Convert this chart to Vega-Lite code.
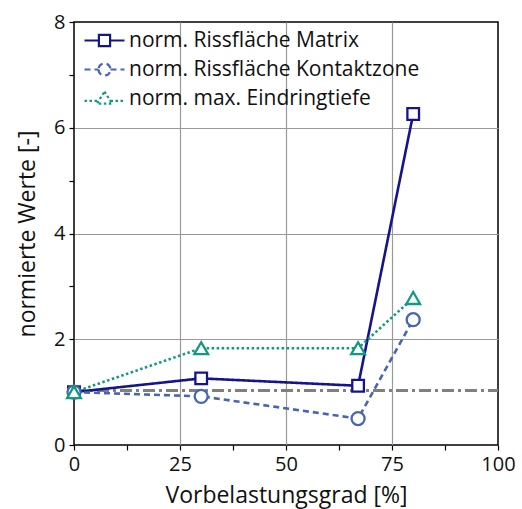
{
  "$schema": "https://vega.github.io/schema/vega-lite/v6.json",
  "autosize": "none",
  "width": 424,
  "height": 423,
  "padding": {"left": 74, "top": 22, "right": 24, "bottom": 64},
  "background": "white",
  "config": {
    "font": "Open Sans",
    "view": {"stroke": "black", "strokeWidth": 1.5},
    "axis": {"labelFont": "Open Sans", "titleFont": "Open Sans", "labelFontSize": 20, "titleFontSize": 23, "titleFontWeight": "normal", "labelColor": "#111", "titleColor": "#111", "domain": false, "tickColor": "black", "tickWidth": 1.2, "tickSize": 5, "gridColor": "#999", "gridWidth": 1.2},
    "legend": {"labelFont": "Open Sans", "labelFontSize": 21, "labelColor": "#111", "labelOffset": 14, "rowPadding": 7, "symbolSize": 256, "symbolStrokeWidth": 2.2, "padding": 0, "labelLimit": 400}
  },
  "data": {"values": [
    {"series": "norm. Rissfläche Matrix", "x": 0, "y": 1.0},
    {"series": "norm. Rissfläche Matrix", "x": 30, "y": 1.26},
    {"series": "norm. Rissfläche Matrix", "x": 67, "y": 1.12},
    {"series": "norm. Rissfläche Matrix", "x": 80, "y": 6.26},
    {"series": "norm. Rissfläche Kontaktzone", "x": 0, "y": 1.0},
    {"series": "norm. Rissfläche Kontaktzone", "x": 30, "y": 0.92},
    {"series": "norm. Rissfläche Kontaktzone", "x": 67, "y": 0.5},
    {"series": "norm. Rissfläche Kontaktzone", "x": 80, "y": 2.37},
    {"series": "norm. max. Eindringtiefe", "x": 0, "y": 1.0},
    {"series": "norm. max. Eindringtiefe", "x": 30, "y": 1.83},
    {"series": "norm. max. Eindringtiefe", "x": 67, "y": 1.83},
    {"series": "norm. max. Eindringtiefe", "x": 80, "y": 2.78}
  ]},
  "encoding": {
    "x": {"field": "x", "type": "quantitative", "scale": {"domain": [0, 100], "nice": false},
      "axis": {"title": "Vorbelastungsgrad [%]", "values": [0, 12.5, 25, 37.5, 50, 62.5, 75, 87.5, 100],
        "labelExpr": "datum.value % 25 === 0 ? datum.label : ''",
        "gridOpacity": {"condition": {"test": "datum.value % 25 !== 0 || datum.value === 0 || datum.value === 100", "value": 0}, "value": 1},
        "labelPadding": 4, "titlePadding": 10, "labelFlush": false,
        "encode": {"ticks": {"y2": {"value": -5}}}}},
    "y": {"field": "y", "type": "quantitative", "scale": {"domain": [0, 8], "nice": false},
      "axis": {"title": "normierte Werte [-]", "values": [0, 1, 2, 3, 4, 5, 6, 7, 8],
        "labelExpr": "datum.value % 2 === 0 ? datum.label : ''",
        "gridOpacity": {"condition": {"test": "datum.value % 2 !== 0 || datum.value === 0 || datum.value === 8", "value": 0}, "value": 1},
        "labelPadding": 4, "titlePadding": 14,
        "encode": {"ticks": {"x2": {"value": 5}}}}},
    "stroke": {"field": "series", "type": "nominal", "title": null,
      "scale": {"domain": ["norm. Rissfläche Matrix", "norm. Rissfläche Kontaktzone", "norm. max. Eindringtiefe"], "range": ["#14148c", "#4766b2", "#129a80"]},
      "legend": {"title": null, "orient": "none", "legendX": 20, "legendY": 8}}
  },
  "layer": [
    {
      "mark": {"type": "rule", "color": "#808080", "strokeWidth": 2, "strokeDash": [12, 4, 3, 4]},
      "encoding": {"y": {"datum": 1.03}, "x": {"datum": 0}, "x2": {"datum": 100}, "stroke": {"value": "#808080"}}
    },
    {
      "mark": {"type": "line", "strokeWidth": 2.6},
      "encoding": {
        "strokeDash": {"field": "series", "type": "nominal", "title": null, "scale": {"domain": ["norm. Rissfläche Matrix", "norm. Rissfläche Kontaktzone", "norm. max. Eindringtiefe"], "range": [[1, 0], [6, 4], [2.5, 2.5]]},
          "legend": {"title": null, "orient": "none", "legendX": 20, "legendY": 8}}
      }
    },
    {
      "transform": [{"filter": "datum.series === 'norm. Rissfläche Matrix'"}],
      "mark": {"type": "point", "shape": "square", "filled": false, "fill": "white", "fillOpacity": 1, "strokeWidth": 2.3, "size": 135, "opacity": 1}
    },
    {
      "transform": [{"filter": "datum.series === 'norm. Rissfläche Kontaktzone'"}],
      "mark": {"type": "point", "shape": "circle", "filled": false, "fill": "white", "fillOpacity": 1, "strokeWidth": 2.3, "size": 170, "opacity": 1}
    },
    {
      "transform": [{"filter": "datum.series === 'norm. max. Eindringtiefe'"}],
      "mark": {"type": "point", "shape": "triangle-up", "filled": false, "fill": "white", "fillOpacity": 1, "strokeWidth": 2.3, "size": 190, "opacity": 1}
    },
    {
      "transform": [{"filter": "datum.x < -1000"}],
      "mark": {"type": "point", "filled": false, "strokeWidth": 2.2, "size": 256, "opacity": 1},
      "encoding": {
        "strokeDash": {"field": "series", "type": "nominal", "title": null, "legend": {"title": null, "orient": "none", "legendX": 20, "legendY": 8}},
        "shape": {"field": "series", "type": "nominal", "title": null, "scale": {"domain": ["norm. Rissfläche Matrix", "norm. Rissfläche Kontaktzone", "norm. max. Eindringtiefe"], "range": ["M-2.5,0H-0.7M0.7,0H2.5M-0.7,-0.7H0.7V0.7H-0.7Z", "M-2.5,0H-0.75M0.75,0H2.5M-0.75,0A0.75,0.75 0 1 0 0.75,0A0.75,0.75 0 1 0 -0.75,0Z", "M-2.5,0.3H-0.75M0.75,0.3H2.5M0,-0.85L0.95,0.65H-0.95Z"]},
          "legend": {"title": null, "orient": "none", "legendX": 20, "legendY": 8}}
      }
    }
  ]
}
